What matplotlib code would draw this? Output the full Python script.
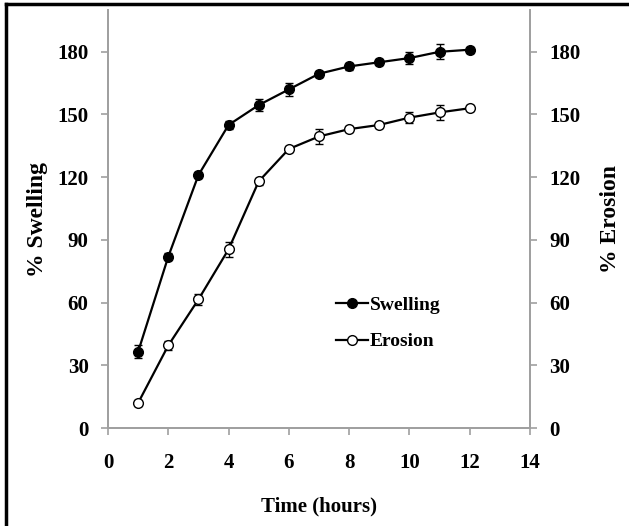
import matplotlib
matplotlib.use("Agg")
import matplotlib.pyplot as plt
from matplotlib.lines import Line2D

time_h = [1, 2, 3, 4, 5, 6, 7, 8, 9, 10, 11, 12]
swelling = [36.5, 82, 121, 145, 154.5, 162, 169.5, 173, 175, 177, 180, 181]
swelling_err = [3, 1.5, 1.5, 2, 3, 3, 1.5, 1.5, 1.5, 3, 3.5, 1.5]
erosion = [12, 39.5, 61.5, 85.5, 118, 133.5, 139.5, 143, 145, 148.5, 151, 153]
erosion_err = [1.5, 2, 2.5, 3.5, 1.5, 1.5, 3.5, 1.5, 1.5, 2.5, 3.5, 1.5]

yticks = [0, 30, 60, 90, 120, 150, 180]
xticks = [0, 2, 4, 6, 8, 10, 12, 14]

plt.rcParams['font.family'] = ['Liberation Serif', 'DejaVu Serif']
plt.rcParams['font.weight'] = 'bold'

fig = plt.figure(figsize=(6.29, 5.26), dpi=100)
ax = fig.add_axes([0.1717, 0.1863, 0.8426 - 0.1717, 0.981 - 0.1863])

gray = '#a0a0a0'
ax.errorbar(time_h, swelling, yerr=swelling_err, color='black', lw=1.6,
            marker='o', ms=7, mfc='black', mec='black', capsize=3,
            elinewidth=1, label='Swelling', zorder=3)
ax.errorbar(time_h, erosion, yerr=erosion_err, color='black', lw=1.6,
            marker='o', ms=7, mfc='white', mec='black', mew=1.0, capsize=3,
            elinewidth=1, label='Erosion', zorder=3)

ax.set_xlim(0, 14)
ax.set_ylim(0, 200)
ax.set_xticks(xticks)
ax.set_yticks(yticks)
ax.spines['top'].set_visible(False)
for s in ['left', 'bottom', 'right']:
    ax.spines[s].set_color(gray)
    ax.spines[s].set_linewidth(1.3)
ax.tick_params(axis='both', colors=gray, labelcolor='black', labelsize=15,
               length=5, width=1.2, direction='out')
ax.tick_params(axis='x', pad=13)
ax.tick_params(axis='y', pad=9)
for lab in ax.get_xticklabels() + ax.get_yticklabels():
    lab.set_fontweight('bold')

ax2 = ax.twinx()
ax2.set_ylim(0, 200)
ax2.set_yticks(yticks)
ax2.spines['top'].set_visible(False)
for s in ['left', 'bottom', 'right']:
    ax2.spines[s].set_color(gray)
    ax2.spines[s].set_linewidth(1.3)
ax2.tick_params(axis='y', colors=gray, labelcolor='black', labelsize=15,
                length=5, width=1.2, direction='out', pad=9)
for lab in ax2.get_yticklabels():
    lab.set_fontweight('bold')

ax.set_xlabel('Time (hours)', fontsize=15, fontweight='bold', labelpad=17)
ax.set_ylabel('% Swelling', fontsize=17, fontweight='bold', labelpad=7)
ax2.set_ylabel('% Erosion', fontsize=17, fontweight='bold', labelpad=14)

handles = [Line2D([], [], color='black', lw=1.6, marker='o', ms=7, mfc='black', mec='black'),
           Line2D([], [], color='black', lw=1.6, marker='o', ms=7, mfc='white', mec='black')]
ax.legend(handles, ['Swelling', 'Erosion'], loc='center left',
          bbox_to_anchor=(0.5, 0.25), frameon=False,
          handlelength=1.6, handletextpad=0.1, labelspacing=0.95,
          prop={'weight': 'bold', 'size': 14})

# figure frame (top and left visible)
fig.add_artist(Line2D([0.01, 0.01], [0, 0.993], transform=fig.transFigure, color='black', lw=2.5))
fig.add_artist(Line2D([0.01, 1.0], [0.993, 0.993], transform=fig.transFigure, color='black', lw=2.5))

fig.savefig('out.png', dpi=100)
